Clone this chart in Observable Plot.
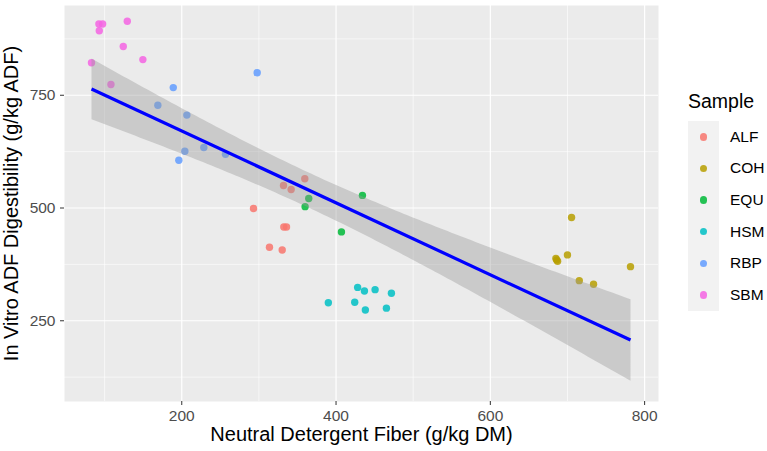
<!DOCTYPE html>
<html>
<head>
<meta charset="utf-8">
<script src="https://cdn.jsdelivr.net/npm/d3@7"></script>
<script src="https://cdn.jsdelivr.net/npm/@observablehq/plot@0.6"></script>
<style>
  html, body { margin: 0; padding: 0; background: #ffffff; }
  body { font-family: "Liberation Sans", Arial, Helvetica, sans-serif; }
  #wrap { position: relative; width: 767px; height: 451px; overflow: hidden; }
  #wrap svg { position: absolute; left: 0; top: 0; }
  .ltitle { position: absolute; left: 688px; top: 90px; font-size: 19.5px; line-height: 22px; color: #000; }
  .lkeys { position: absolute; left: 688px; top: 121px; }
  .lrow { display: flex; align-items: center; height: 31.67px; }
  .lsw { width: 31px; height: 100%; background: #F2F2F2; display: flex; align-items: center; justify-content: center; }
  .ldot { width: 7.4px; height: 7.4px; border-radius: 50%; }
  .llab { margin-left: 11px; font-size: 15.5px; color: #000; }
</style>
</head>
<body>
<div id="wrap"></div>
<script>
// ---- data ----
const samples = ["ALF", "COH", "EQU", "HSM", "RBP", "SBM"];
const colors  = ["#F8766D", "#B79F00", "#00BA38", "#00BFC4", "#619CFF", "#F564E3"];

const alfNDF  = [359.5, 331.9, 341.8, 293.0, 332.3, 335.8, 313.7, 330.2];
const alfADFD = [565, 550, 541, 499, 458, 458, 413, 407];

const cohNDF  = [705.3, 700.0, 685.0, 687.2, 686.0, 715.3, 733.8, 781.7];
const cohADFD = [479, 396, 388, 382, 385, 339, 331, 370];

const equNDF  = [364.6, 359.9, 434.2, 407.0];
const equADFD = [521, 503, 528, 447];

const hsmNDF  = [428.0, 436.8, 450.6, 471.8, 390.0, 424.2, 438.0, 465.3];
const hsmADFD = [324, 316, 319, 311, 290, 291, 274, 278];

const rbpNDF  = [297.8, 189.0, 169.0, 206.6, 204.0, 196.2, 228.6, 256.7];
const rbpADFD = [800, 767, 728, 706, 626, 606, 634, 619];

const sbmNDF  = [83.0, 92.6, 97.4, 93.1, 129.4, 124.2, 149.6, 108.2];
const sbmADFD = [822, 908, 908, 893, 914, 858, 829, 774];

const xTicks = [200, 400, 600, 800];
const xMinor = [100, 300, 500, 700];
const yTicks = [250, 500, 750];
const yMinor = [125, 375, 625, 875];

const xTitle = "Neutral Detergent Fiber (g/kg DM)";
const yTitle = "In Vitro ADF Digestibility (g/kg ADF)";
const legendTitle = "Sample";

// ---- build table ----
const series = {
  ALF: [alfNDF, alfADFD], COH: [cohNDF, cohADFD], EQU: [equNDF, equADFD],
  HSM: [hsmNDF, hsmADFD], RBP: [rbpNDF, rbpADFD], SBM: [sbmNDF, sbmADFD]
};
const rows = [];
for (const s of samples) {
  const [xs, ys] = series[s];
  xs.forEach((v, i) => rows.push({sample: s, ndf: v, adfd: ys[i]}));
}

const font = '"Liberation Sans", Arial, Helvetica, sans-serif';

const plot = Plot.plot({
  width: 767,
  height: 451,
  marginLeft: 64,
  marginRight: 109,
  marginTop: 5,
  marginBottom: 50,
  style: {fontFamily: font, fontSize: "15px", background: "white", overflow: "visible"},
  x: {domain: [48, 818]},
  y: {domain: [71, 949]},
  color: {domain: samples, range: colors},
  marks: [
    Plot.frame({fill: "#EBEBEB", stroke: "none"}),
    Plot.ruleX(xMinor, {stroke: "white", strokeWidth: 0.6}),
    Plot.ruleY(yMinor, {stroke: "white", strokeWidth: 0.6}),
    Plot.ruleX(xTicks, {stroke: "white", strokeWidth: 1.2}),
    Plot.ruleY(yTicks, {stroke: "white", strokeWidth: 1.2}),
    Plot.dot(rows, {x: "ndf", y: "adfd", fill: "sample", r: 3.7, fillOpacity: 0.85, stroke: "none"}),
    Plot.linearRegressionY(rows, {
      x: "ndf", y: "adfd",
      stroke: "#0000FF", strokeWidth: 3.2, strokeLinecap: "butt",
      fill: "#999999", fillOpacity: 0.4
    }),
    Plot.axisX(xTicks, {tickSize: 4, tickPadding: 4, stroke: "#333333", fill: "#4D4D4D", fontSize: 15.5, label: null}),
    Plot.axisY(yTicks, {tickSize: 4, tickPadding: 5, stroke: "#333333", fill: "#4D4D4D", fontSize: 15.5, label: null}),
    Plot.text([xTitle], {frameAnchor: "bottom", dy: 39, fontSize: 20, fill: "black", textAnchor: "middle"}),
    Plot.text([yTitle], {frameAnchor: "left", dx: -53, rotate: -90, fontSize: 20, fill: "black", textAnchor: "middle"})
  ]
});

const wrap = document.getElementById("wrap");
wrap.appendChild(plot);

// ---- legend (HTML, to the right of the panel) ----
const t = document.createElement("div");
t.className = "ltitle";
t.textContent = legendTitle;
wrap.appendChild(t);
const keys = document.createElement("div");
keys.className = "lkeys";
samples.forEach((s, i) => {
  const row = document.createElement("div");
  row.className = "lrow";
  const sw = document.createElement("div");
  sw.className = "lsw";
  const dot = document.createElement("div");
  dot.className = "ldot";
  dot.style.background = colors[i];
  dot.style.opacity = 0.85;
  sw.appendChild(dot);
  const lab = document.createElement("div");
  lab.className = "llab";
  lab.textContent = s;
  row.appendChild(sw);
  row.appendChild(lab);
  keys.appendChild(row);
});
wrap.appendChild(keys);
</script>
</body>
</html>
